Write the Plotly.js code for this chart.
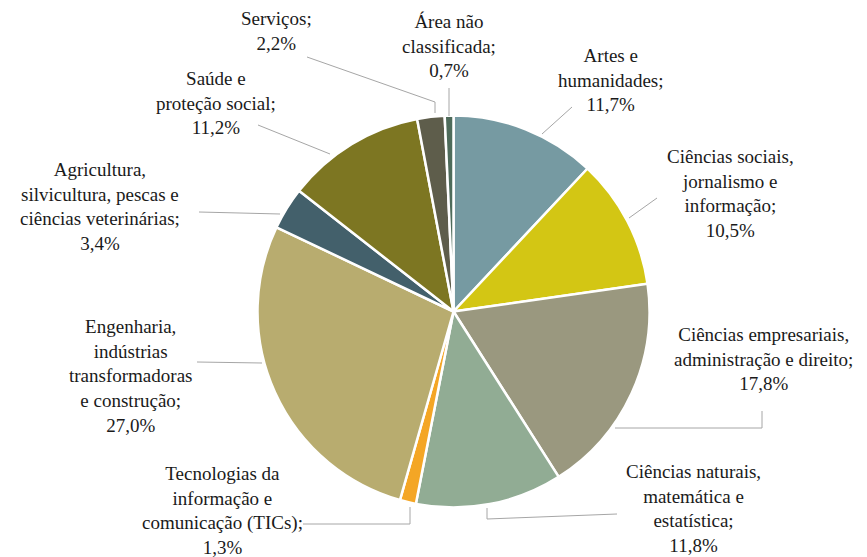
<!DOCTYPE html>
<html>
<head>
<meta charset="utf-8">
<script src="https://cdn.plot.ly/plotly-3.0.1.min.js"></script>
<style>html,body{margin:0;padding:0;background:#fff;}#chart{width:867px;height:557px;}</style>
</head>
<body>
<div id="chart"></div>
<script>
const categories = [
  "Artes e humanidades",
  "Ciências sociais, jornalismo e informação",
  "Ciências empresariais, administração e direito",
  "Ciências naturais, matemática e estatística",
  "Tecnologias da informação e comunicação (TICs)",
  "Engenharia, indústrias transformadoras e construção",
  "Agricultura, silvicultura, pescas e ciências veterinárias",
  "Saúde e proteção social",
  "Serviços",
  "Área não classificada"
];
const values = [11.7, 10.5, 17.8, 11.8, 1.3, 27.0, 3.4, 11.2, 2.2, 0.7];
const labelLines = [
  ["Artes e", "humanidades;"],
  ["Ciências sociais,", "jornalismo e", "informação;"],
  ["Ciências empresariais,", "administração e direito;"],
  ["Ciências naturais,", "matemática e", "estatística;"],
  ["Tecnologias da", "informação e", "comunicação (TICs);"],
  ["Engenharia,", "indústrias", "transformadoras", "e construção;"],
  ["Agricultura,", "silvicultura, pescas e", "ciências veterinárias;"],
  ["Saúde e", "proteção social;"],
  ["Serviços;"],
  ["Área não", "classificada;"]
];
const colors = ["#769AA2", "#D3C614", "#9A987F", "#91AC94", "#F4A625",
                "#B8AC6F", "#43606B", "#7D7622", "#5E5D4B", "#4E6B5A"];

const W = 867, H = 557;
const px = x => x / W;
const py = y => 1 - y / H;

const labelPos = [
  [611, 80], [730, 193], [763, 359], [693, 508], [223, 510],
  [130, 376], [100, 206], [216, 103], [276, 31], [449, 46]
];
const leaders = [
  [[572, 107], [542, 134]],
  [[657, 198], [629, 218]],
  [[762, 411], [762, 428], [615, 428]],
  [[617, 514], [487, 519], [487, 508]],
  [[303, 524], [410, 524], [410, 507]],
  [[197, 362], [262, 363]],
  [[199, 212], [280, 214]],
  [[258, 125], [330, 154]],
  [[307, 57], [435, 102], [435, 113]],
  [[449, 88], [449, 116]]
];

const fmt = v => v.toFixed(1).replace('.', ',') + '%';
const FONT = "Liberation Serif, Times New Roman, serif";

const annotations = categories.map((c, i) => ({
  xref: 'paper', yref: 'paper',
  x: px(labelPos[i][0]), y: py(labelPos[i][1]),
  xanchor: 'center', yanchor: 'middle',
  text: labelLines[i].concat([fmt(values[i])]).join('<br>'),
  showarrow: false,
  align: 'center',
  font: {family: FONT, size: 19, color: '#1a1a1a'}
}));

const shapes = leaders.map(pts => ({
  type: 'path', xref: 'paper', yref: 'paper',
  path: pts.map((p, j) => (j ? 'L' : 'M') + px(p[0]) + ',' + py(p[1])).join(' '),
  line: {color: '#A6A6A6', width: 1}
}));

const cx = 453.5, cy = 311.5, r = 196;

Plotly.newPlot('chart', [{
  type: 'pie',
  labels: categories,
  values: values,
  sort: false,
  direction: 'clockwise',
  rotation: 0,
  textinfo: 'none',
  hoverinfo: 'label+percent',
  marker: {colors: colors, line: {color: '#ffffff', width: 2.5}},
  domain: {x: [px(cx - r), px(cx + r)], y: [py(cy + r), py(cy - r)]}
}], {
  width: W, height: H,
  margin: {l: 0, r: 0, t: 0, b: 0},
  showlegend: false,
  paper_bgcolor: '#ffffff',
  font: {family: FONT},
  annotations: annotations,
  shapes: shapes
}, {staticPlot: true});
</script>
</body>
</html>
